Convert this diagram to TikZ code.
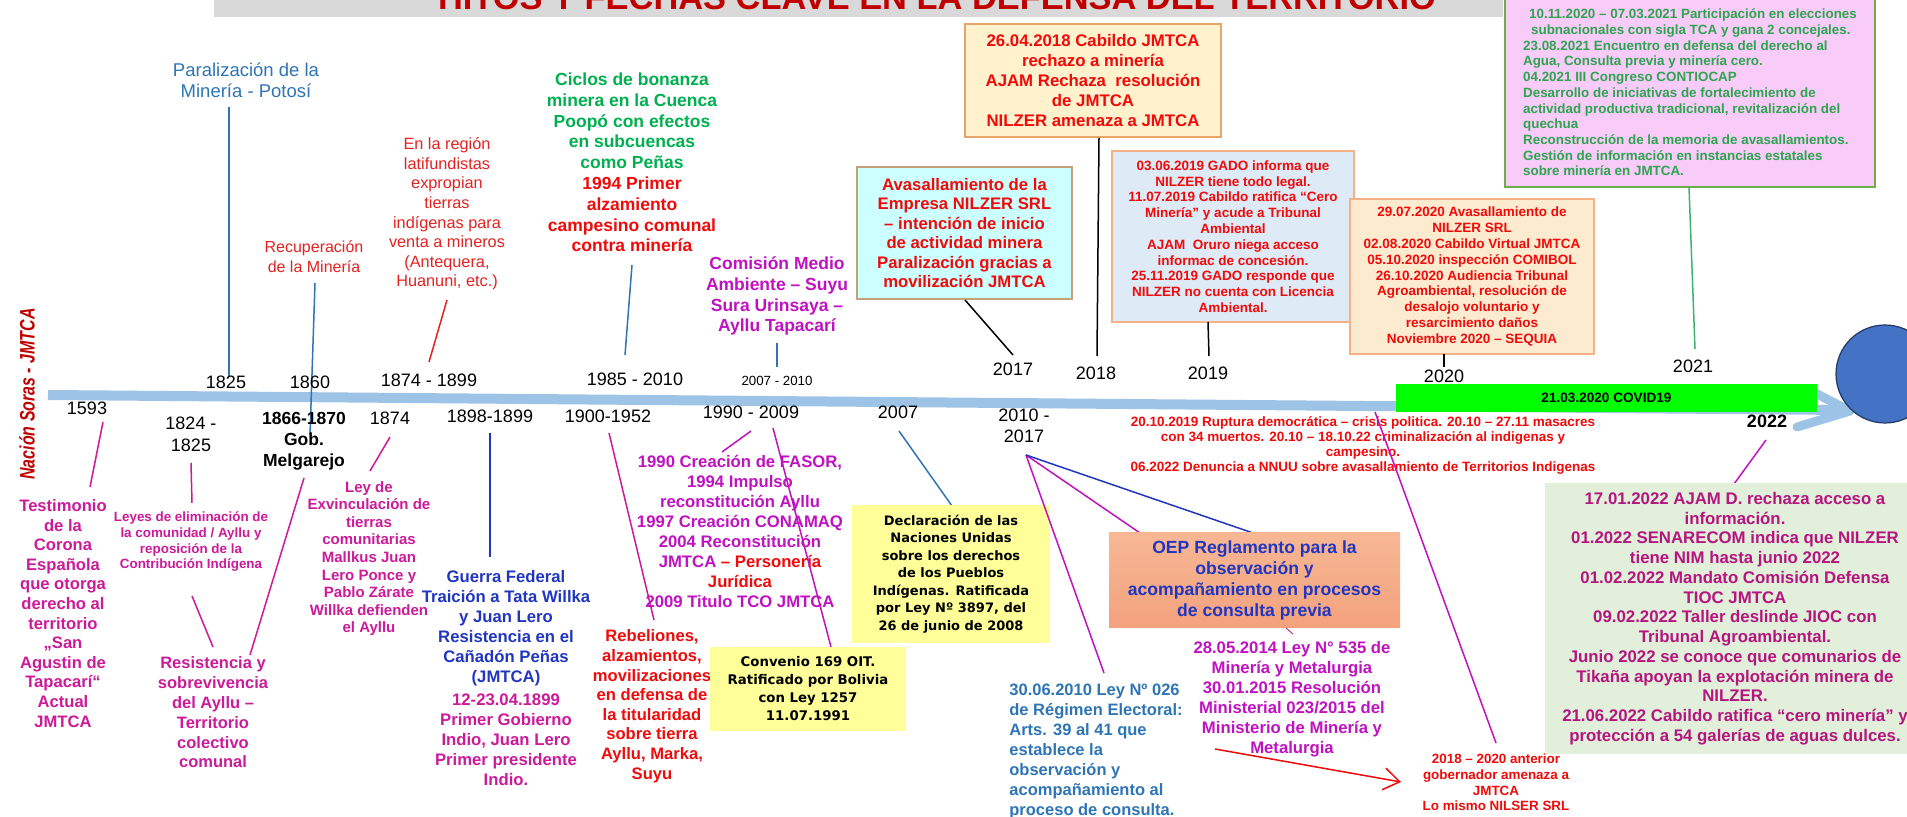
\documentclass[tikz,border=0pt]{standalone}
\usepackage{graphicx}
\usepackage{fontspec}
\setmainfont{Liberation Sans}
\newfontfamily\vfont{DejaVu Sans}
\usetikzlibrary{arrows.meta}
\definecolor{cBar}{HTML}{9DC3E6}
\definecolor{cTit}{HTML}{C00000}
\definecolor{cBand}{HTML}{D9D9D9}
\definecolor{cMagP}{HTML}{CC1A99}
\definecolor{cMagV}{HTML}{C012C0}
\definecolor{cMagG}{HTML}{B5157F}
\definecolor{cRR}{HTML}{E32322}
\definecolor{cRB}{HTML}{F00A0A}
\definecolor{cBl}{HTML}{2E75B6}
\definecolor{cBB}{HTML}{2136C0}
\definecolor{cGB}{HTML}{00B050}
\definecolor{cGP}{HTML}{2DA44E}
\definecolor{cCyan}{HTML}{CCFFFF}
\definecolor{cCyanD}{HTML}{C8A07A}
\definecolor{cPeach}{HTML}{FFF2CC}
\definecolor{cPeachD}{HTML}{E6A66A}
\definecolor{cLBlue}{HTML}{DEEBF7}
\definecolor{cSalmon}{HTML}{F4B183}
\definecolor{cPeachB}{HTML}{FDEBD0}
\definecolor{cPink}{HTML}{F9CBF9}
\definecolor{cPinkD}{HTML}{70AD47}
\definecolor{cLGreen}{HTML}{E2EFDA}
\definecolor{cYel}{HTML}{FFFF99}
\definecolor{cOepA}{HTML}{F7B795}
\definecolor{cOepB}{HTML}{F3A27C}
\definecolor{cCovid}{HTML}{00FF00}
\definecolor{cCirc}{HTML}{4472C4}
\definecolor{cCircD}{HTML}{1F3864}
\definecolor{cLineG}{HTML}{3CB371}
\begin{document}
\begin{tikzpicture}[x=0.5pt,y=-0.5pt,
  lbl/.style={inner sep=0pt, anchor=base, align=center},
  yr/.style={inner sep=0pt, anchor=base, align=center, font=\fontsize{9}{10.5}\selectfont},
  conn/.style={line width=0.75pt},
  bx/.style={inner sep=0pt, align=center},
]
\useasboundingbox (0,0) rectangle (1907,817);
\fill[white] (0,0) rectangle (1907,817);

% title band
\node[fill=cBand, inner sep=0, minimum width=644.5pt, minimum height=12pt, anchor=south west] (band) at (214,17) {};
\node[lbl, text=cTit, font=\bfseries\fontsize{17.2}{20}\selectfont] (title) at (937,10) {HITOS Y FECHAS CLAVE EN LA DEFENSA DEL TERRITORIO};

% side label
\node[rotate=90, inner sep=0, text=cTit, font=\bfseries\itshape\fontsize{10.5}{12}\selectfont] (nacion) at (27,394) {\scalebox{0.76}[1]{Nación Soras - JMTCA}};

% timeline bar
\coordinate (barL) at (48,395);
\coordinate (barR) at (1845,410);
\draw[cBar, line width=5pt] (barL) -- (barR);
\coordinate (tip) at (1850,411);
\coordinate (armD) at (1797,427);
\coordinate (armU) at (1815,393);
\draw[cBar, line width=4.5pt, line cap=round] (armD) -- (tip);
\draw[cBar, line width=4.5pt, line cap=round] (armU) -- (tip);

% ===== top labels (anchor = baseline of last line) =====
\node[lbl, text=cBl, font=\fontsize{9.25}{10.5}\selectfont] (paral) at (246,98) {Paralización de la\\Minería - Potosí};
\node[lbl, text=cRR, font=\fontsize{8}{10}\selectfont] (recup) at (314,273) {Recuperación\\de la Minería};
\node[lbl, text=cRR, font=\fontsize{8.15}{9.8}\selectfont] (region) at (447,287) {En la región\\latifundistas\\expropian\\tierras\\indígenas para\\venta a mineros\\(Antequera,\\Huanuni, etc.)};
\node[lbl, text=cGB, font=\bfseries\fontsize{8.75}{10.4}\selectfont] (ciclos) at (632,252) {Ciclos de bonanza\\minera en la Cuenca\\Poopó con efectos\\en subcuencas\\como Peñas\\\textcolor{cRB}{1994 Primer}\\\textcolor{cRB}{alzamiento}\\\textcolor{cRB}{campesino comunal}\\\textcolor{cRB}{contra minería}};
\node[lbl, text=cMagV, font=\bfseries\fontsize{8.75}{10.35}\selectfont] (comision) at (777,332) {Comisión Medio\\Ambiente – Suyu\\Sura Urinsaya –\\Ayllu Tapacarí};

\node[bx, fill=cCyan, draw=cCyanD, line width=0.6pt, minimum width=107.5pt, minimum height=66pt, text=cRB, font=\bfseries\fontsize{8.35}{9.75}\selectfont] (avas) at (964.5,233) {Avasallamiento de la\\Empresa NILZER SRL\\– intención de inicio\\de actividad minera\\Paralización gracias a\\movilización JMTCA};
\node[bx, fill=cPeach, draw=cPeachD, line width=0.6pt, minimum width=128pt, minimum height=56.5pt, text=cRB, font=\bfseries\fontsize{8.4}{9.9}\selectfont] (cab18) at (1093,80.5) {26.04.2018 Cabildo JMTCA\\rechazo a minería\\AJAM Rechaza \ resolución\\de JMTCA\\NILZER amenaza a JMTCA};
\node[bx, fill=cLBlue, draw=cSalmon, line width=0.6pt, minimum width=121pt, minimum height=85.5pt, text=cRB, font=\bfseries\fontsize{6.75}{7.9}\selectfont] (gado19) at (1233,236.5) {03.06.2019 GADO informa que\\NILZER tiene todo legal.\\11.07.2019 Cabildo ratifica “Cero\\Minería” y acude a Tribunal\\Ambiental\\AJAM \ Oruro niega acceso\\informac de concesión.\\25.11.2019 GADO responde que\\NILZER no cuenta con Licencia\\Ambiental.};
\node[bx, fill=cPeachB, draw=cSalmon, line width=0.6pt, minimum width=122pt, minimum height=77.5pt, text=cRB, font=\bfseries\fontsize{6.75}{7.9}\selectfont] (avas20) at (1472,276.5) {29.07.2020 Avasallamiento de\\NILZER SRL\\02.08.2020 Cabildo Virtual JMTCA\\05.10.2020 inspección COMIBOL\\26.10.2020 Audiencia Tribunal\\Agroambiental, resolución de\\desalojo voluntario y\\resarcimiento daños\\Noviembre 2020 – SEQUIA};
\node[inner sep=0pt, align=left, fill=cPink, draw=cPinkD, line width=0.6pt, minimum width=185pt, minimum height=94.5pt, text=cGP, font=\bfseries\fontsize{6.7}{7.85}\selectfont] (pink21) at (1690,92.5) {\hspace*{3pt}10.11.2020 – 07.03.2021 Participación en elecciones\\\hspace*{4pt}subnacionales con sigla TCA y gana 2 concejales.\\23.08.2021 Encuentro en defensa del derecho al\\Agua, Consulta previa y minería cero.\\04.2021 III Congreso CONTIOCAP\\Desarrollo de iniciativas de fortalecimiento de\\actividad productiva tradicional, revitalización del\\quechua\\Reconstrucción de la memoria de avasallamientos.\\Gestión de información en instancias estatales\\sobre minería en JMTCA.};

% top connectors
\coordinate (a1) at (229,107); \coordinate (a2) at (229,377);
\draw[conn, cBl] (a1) -- (a2);
\coordinate (b1) at (315,283); \coordinate (b2) at (310,435);
\draw[conn, cBl] (b1) -- (b2);
\coordinate (c1) at (447,300); \coordinate (c2) at (429,362);
\draw[conn, cRR] (c1) -- (c2);
\coordinate (d1) at (632,265); \coordinate (d2) at (625,355);
\draw[conn, cBl] (d1) -- (d2);
\coordinate (e1) at (777,343); \coordinate (e2) at (777,367);
\draw[conn, cBl] (e1) -- (e2);
\coordinate (f1) at (965,300); \coordinate (f2) at (1013,355);
\draw[conn, black] (f1) -- (f2);
\coordinate (g1) at (1099,138); \coordinate (g2) at (1097,356);
\draw[conn, black] (g1) -- (g2);
\coordinate (h1) at (1208,322); \coordinate (h2) at (1209,356);
\draw[conn, black] (h1) -- (h2);
\coordinate (i1) at (1444,354); \coordinate (i2) at (1444,367);
\draw[conn, black] (i1) -- (i2);
\coordinate (j1) at (1689,187); \coordinate (j2) at (1695,349);
\draw[conn, cLineG] (j1) -- (j2);

% years above
\node[yr] (y1825) at (226,389) {1825};
\node[yr] (y1860) at (310,389) {1860};
\node[yr] (y1874b) at (429,387) {1874 - 1899};
\node[yr] (y1985) at (635,386) {1985 - 2010};
\node[yr, font=\fontsize{6.65}{8}\selectfont] (y0710) at (777,386) {2007 - 2010};
\node[yr] (y2017) at (1013,376) {2017};
\node[yr] (y2018) at (1096,380) {2018};
\node[yr] (y2019) at (1208,380) {2019};
\node[yr] (y2020) at (1444,383) {2020};
\node[yr] (y2021) at (1693,373) {2021};

% covid box
\node[bx, fill=cCovid, minimum width=210.5pt, minimum height=14pt, font=\bfseries\fontsize{6.8}{8}\selectfont] (covid) at (1606.5,398) {21.03.2020 COVID19};

% end circle
\node[circle, fill=cCirc, draw=cCircD, line width=0.6pt, minimum size=49pt, inner sep=0] (endc) at (1885,374) {};

% ===== bottom =====
\node[yr] (y1593) at (87,415) {1593};
\node[lbl, text=cMagP, font=\bfseries\fontsize{8.3}{9.8}\selectfont] (testim) at (63,727) {Testimonio\\de la\\Corona\\Española\\que otorga\\derecho al\\territorio\\„San\\Agustin de\\Tapacarí“\\Actual\\JMTCA};
\coordinate (k1) at (103,422); \coordinate (k2) at (90,487);
\draw[conn, cMagP] (k1) -- (k2);

\node[yr, font=\fontsize{9}{11}\selectfont] (y1824) at (191,452) {1824 -\\1825};
\coordinate (l1) at (191,463); \coordinate (l2) at (192,503);
\draw[conn, cMagP] (l1) -- (l2);
\node[lbl, text=cMagP, font=\bfseries\fontsize{6.7}{7.85}\selectfont] (leyes) at (191,569) {Leyes de eliminación de\\la comunidad / Ayllu y\\reposición de la\\Contribución Indígena};
\coordinate (m1) at (192,596); \coordinate (m2) at (213,647);
\draw[conn, cMagP] (m1) -- (m2);
\node[lbl, text=cMagP, font=\bfseries\fontsize{8.25}{9.9}\selectfont] (resist) at (213,768) {Resistencia y\\sobrevivencia\\del Ayllu –\\Territorio\\colectivo\\comunal};

\node[lbl, font=\bfseries\fontsize{8.75}{10.5}\selectfont] (melg) at (304,467) {1866-1870\\Gob.\\Melgarejo};
\coordinate (n1) at (304,478); \coordinate (n2) at (250,655);
\draw[conn, cMagP] (n1) -- (n2);

\node[yr] (y1874) at (390,425) {1874};
\coordinate (o1) at (390,437); \coordinate (o2) at (370,471);
\draw[conn, cMagP] (o1) -- (o2);
\node[lbl, text=cMagP, font=\bfseries\fontsize{7.5}{8.8}\selectfont] (exvin) at (369,633) {Ley de\\Exvinculación de\\tierras\\comunitarias\\Mallkus Juan\\Lero Ponce y\\Pablo Zárate\\Willka defienden\\el Ayllu};

\node[yr] (y1898) at (490,423) {1898-1899};
\coordinate (p1) at (490,433); \coordinate (p2) at (490,557);
\draw[conn, cBB] (p1) -- (p2);
\node[lbl, text=cBB, font=\bfseries\fontsize{8.35}{10}\selectfont] (guerra) at (506,785) {Guerra Federal\\Traición a Tata Willka\\y Juan Lero\\Resistencia en el\\Cañadón Peñas\\(JMTCA)\\[1.2pt]\textcolor{cMagP}{12-23.04.1899}\\\textcolor{cMagP}{Primer Gobierno}\\\textcolor{cMagP}{Indio, Juan Lero}\\\textcolor{cMagP}{Primer presidente}\\\textcolor{cMagP}{Indio.}};

\node[yr] (y1900) at (608,423) {1900-1952};
\coordinate (q1) at (609,433); \coordinate (q2) at (654,620);
\draw[conn, cMagP] (q1) -- (q2);
\node[lbl, text=cRB, font=\bfseries\fontsize{8.3}{9.8}\selectfont] (rebel) at (652,779) {Rebeliones,\\alzamientos,\\movilizaciones\\en defensa de\\la titularidad\\sobre tierra\\Ayllu, Marka,\\Suyu};

\node[yr] (y1990) at (751,419) {1990 - 2009};
\node[lbl, text=cMagV, font=\bfseries\fontsize{8.35}{10}\selectfont] (fasor) at (740,608) {1990 Creación de FASOR,\\1994 Impulso\\reconstitución Ayllu\\1997 Creación CONAMAQ\\2004 Reconstitución\\JMTCA \textcolor{cRB}{– Personería}\\\textcolor{cRB}{Jurídica}\\2009 Titulo TCO JMTCA};
\coordinate (r1) at (751,431); \coordinate (r2) at (722,452);
\draw[conn, cMagV] (r1) -- (r2);
\coordinate (s1) at (773,428); \coordinate (s2) at (831,647);
\draw[conn, cMagV] (s1) -- (s2);

\node[bx, fill=cYel, minimum width=98pt, minimum height=42pt, font=\vfont\bfseries\fontsize{6.65}{9}\selectfont] (conv) at (808,689) {Convenio 169 OIT.\\Ratificado por Bolivia\\con Ley 1257\\11.07.1991};

\node[yr] (y2007) at (898,419) {2007};
\coordinate (t1) at (899,431); \coordinate (t2) at (952,506);
\draw[conn, cBl] (t1) -- (t2);
\node[bx, fill=cYel, minimum width=99pt, minimum height=69pt, font=\vfont\bfseries\fontsize{6.5}{8.75}\selectfont] (decl) at (951,574) {Declaración de las\\Naciones Unidas\\sobre los derechos\\de los Pueblos\\Indígenas. Ratificada\\por Ley Nº 3897, del\\26 de junio de 2008};

\node[yr] (y2010) at (1024,443) {2010 -\\2017};
\coordinate (u0) at (1026,455);
\coordinate (u1) at (1104,673);
\coordinate (u2) at (1140,533);
\coordinate (u3) at (1253,533);
\draw[conn, cMagV] (u0) -- (u1);
\draw[conn, cMagV] (u0) -- (u2);
\draw[conn, cBB] (u0) -- (u3);

\node[bx, top color=cOepA, bottom color=cOepB, minimum width=145.5pt, minimum height=47.5pt, text=cBB, font=\bfseries\fontsize{8.8}{10.35}\selectfont] (oep) at (1254.5,580.5) {OEP Reglamento para la\\observación y\\acompañamiento en procesos\\de consulta previa};
\coordinate (v1) at (1286,628); \coordinate (v2) at (1293,634);
\draw[line width=0.5pt, cMagV!60!gray] (v1) -- (v2);

\node[lbl, text=cMagV, font=\bfseries\fontsize{8.35}{10}\selectfont] (ley535) at (1292,754) {28.05.2014 Ley N° 535 de\\Minería y Metalurgia\\30.01.2015 Resolución\\Ministerial 023/2015 del\\Ministerio de Minería y\\Metalurgia};
\node[inner sep=0pt, anchor=base west, align=left, text=cBl, font=\bfseries\fontsize{8.25}{10}\selectfont] (ley026) at (1009,815) {30.06.2010 Ley Nº 026\\de Régimen Electoral:\\Arts. 39 al 41 que\\establece la\\observación y\\acompañamiento al\\proceso de consulta.};

\coordinate (w1) at (1215,749); \coordinate (w2) at (1401,782);
\draw[conn, cRB, -{Straight Barb[length=8pt,width=11pt]}] (w1) -- (w2);

\node[lbl, text=cRB, font=\bfseries\fontsize{6.75}{7.65}\selectfont] (crisis) at (1363,472) {20.10.2019 Ruptura democrática – crisis politica. 20.10 – 27.11 masacres\\con 34 muertos. 20.10 – 18.10.22 criminalización al indigenas y\\campesino.\\06.2022 Denuncia a NNUU sobre avasallamiento de Territorios Indigenas};
\coordinate (x1) at (1375,412); \coordinate (x2) at (1496,743);
\draw[conn, cMagV] (x1) -- (x2);
\node[lbl, text=cRB, font=\bfseries\fontsize{6.7}{7.85}\selectfont] (gober) at (1496,811) {2018 – 2020 anterior\\gobernador amenaza a\\JMTCA\\Lo mismo NILSER SRL};

\node[yr, font=\bfseries\fontsize{9}{10.5}\selectfont] (y2022) at (1767,428) {2022};
\coordinate (z1) at (1766,440); \coordinate (z2) at (1734,484);
\draw[conn, cMagV] (z1) -- (z2);
\node[bx, fill=cLGreen, minimum width=190pt, minimum height=135.5pt, text=cMagG, font=\bfseries\fontsize{8.4}{9.875}\selectfont] (box22) at (1735,618.5) {17.01.2022 AJAM D. rechaza acceso a\\información.\\01.2022 SENARECOM indica que NILZER\\tiene NIM hasta junio 2022\\01.02.2022 Mandato Comisión Defensa\\TIOC JMTCA\\09.02.2022 Taller deslinde JIOC con\\Tribunal Agroambiental.\\Junio 2022 se conoce que comunarios de\\Tikaña apoyan la explotación minera de\\NILZER.\\21.06.2022 Cabildo ratifica “cero minería” y\\protección a 54 galerías de aguas dulces.};
\end{tikzpicture}
\end{document}
